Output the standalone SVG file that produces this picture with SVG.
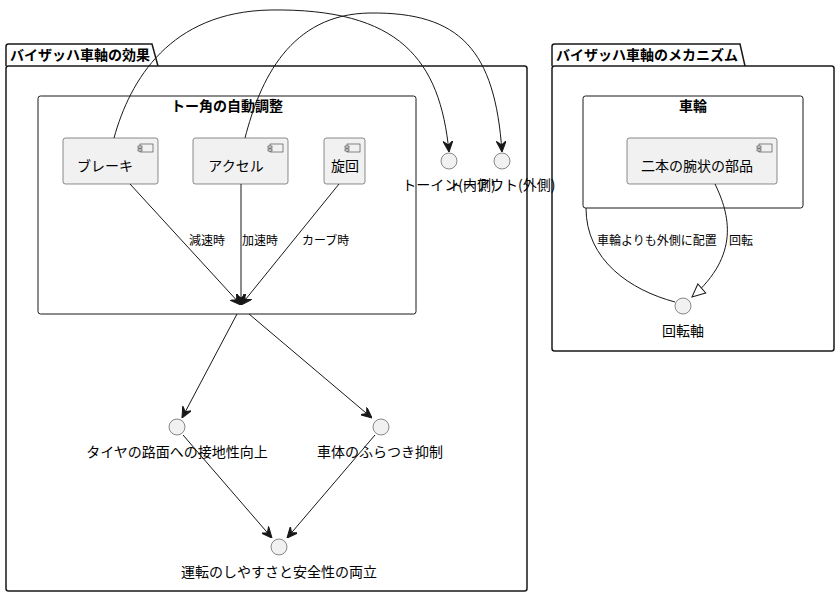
<svg xmlns="http://www.w3.org/2000/svg" width="840" height="597" viewBox="0 0 840 597">
<style>
text{font-family:"Noto Sans CJK JP","Noto Sans",sans-serif;fill:#000}
.pkg{fill:none;stroke:#181818;stroke-width:1.5}
.box{fill:none;stroke:#181818;stroke-width:1}
.comp{fill:#F1F1F1;stroke:#181818;stroke-width:0.5}
.icon{fill:#F1F1F1;stroke:#181818;stroke-width:0.5}
.iface{fill:#F1F1F1;stroke:#181818;stroke-width:0.5}
.ptitle{font-size:14px;font-weight:bold}
.btitle{font-size:14px;font-weight:bold}
.ctext{font-size:14px}
.ltext{font-size:14px}
.elabel{font-size:12px}
.edge{fill:none;stroke:#181818;stroke-width:1}
</style>
<defs>
<marker id="arr" markerWidth="11" markerHeight="10" refX="11" refY="5" orient="auto" markerUnits="userSpaceOnUse">
<path d="M0,0 L11,5 L0,10 L4,5 Z" fill="#181818" stroke="#181818" stroke-width="1"/>
</marker>
<marker id="tri" markerWidth="16" markerHeight="14" refX="14" refY="7" orient="auto" markerUnits="userSpaceOnUse">
<path d="M1,1 L14,7 L1,13 Z" fill="#FFFFFF" stroke="#181818" stroke-width="1"/>
</marker>
<g id="cicon">
<rect x="-18" y="6" width="13" height="8" class="icon"/>
<rect x="-20" y="8" width="4" height="2" class="icon"/>
<rect x="-20" y="11" width="4" height="2" class="icon"/>
</g>
</defs>

<g id="pkg-effect">
<path class="pkg" d="M6,66 L6,46.5 Q6,44 8.5,44 L152,44 L158,66"/>
<rect class="pkg" x="6" y="66" width="521" height="525" rx="2.5"/>
<text class="ptitle" x="10" y="60">バイザッハ車軸の効果</text>
</g>
<g id="box-toe">
<rect class="box" x="38" y="96" width="378" height="218" rx="2.5"/>
<text class="btitle" x="227" y="111" text-anchor="middle">トー角の自動調整</text>
</g>
<g id="pkg-mech">
<path class="pkg" d="M552,66 L552,46.5 Q552,44 554.5,44 L740,44 L745,66"/>
<rect class="pkg" x="552" y="66" width="282" height="285" rx="2.5"/>
<text class="ptitle" x="556" y="60">バイザッハ車軸のメカニズム</text>
</g>
<g id="box-wheel">
<rect class="box" x="583" y="96" width="220" height="112" rx="2.5"/>
<text class="btitle" x="693" y="111" text-anchor="middle">車輪</text>
</g>

<g id="brake">
<rect class="comp" x="63" y="138" width="95" height="46" rx="2.5"/>
<use href="#cicon" x="158" y="138"/>
<text class="ctext" x="105" y="171" text-anchor="middle">ブレーキ</text>
</g>
<g id="accel">
<rect class="comp" x="193" y="138" width="95" height="46" rx="2.5"/>
<use href="#cicon" x="288" y="138"/>
<text class="ctext" x="236" y="171" text-anchor="middle">アクセル</text>
</g>
<g id="turn">
<rect class="comp" x="324" y="138" width="41" height="46" rx="2.5"/>
<use href="#cicon" x="365" y="138"/>
<text class="ctext" x="345" y="171" text-anchor="middle">旋回</text>
</g>
<g id="arms">
<rect class="comp" x="627" y="138" width="150" height="46" rx="2.5"/>
<use href="#cicon" x="777" y="138"/>
<text class="ctext" x="697" y="171" text-anchor="middle">二本の腕状の部品</text>
</g>

<g id="toein">
<circle class="iface" cx="449" cy="161" r="8"/>
<text class="ltext" x="449" y="190" text-anchor="middle">トーイン(内側)</text>
</g>
<g id="toeout">
<circle class="iface" cx="502" cy="161" r="8"/>
<text class="ltext" x="502" y="190" text-anchor="middle">トーアウト(外側)</text>
</g>
<g id="grip">
<circle class="iface" cx="177" cy="427" r="8"/>
<text class="ltext" x="177" y="457" text-anchor="middle">タイヤの路面への接地性向上</text>
</g>
<g id="stable">
<circle class="iface" cx="381" cy="427" r="8"/>
<text class="ltext" x="380" y="457" text-anchor="middle">車体のふらつき抑制</text>
</g>
<g id="both">
<circle class="iface" cx="279" cy="547" r="8"/>
<text class="ltext" x="279" y="577" text-anchor="middle">運転のしやすさと安全性の両立</text>
</g>
<g id="axis">
<circle class="iface" cx="683" cy="306" r="8"/>
<text class="ltext" x="683" y="336" text-anchor="middle">回転軸</text>
</g>

<g id="connectors">
<path class="edge" d="M114,138 C130,80 170,12 270,10 C400,8 440,60 449,152" marker-end="url(#arr)"/>
<path class="edge" d="M245,138 C260,80 290,14 370,13 C460,12 495,50 502,152" marker-end="url(#arr)"/>
<path class="edge" d="M130,184 L241,305" marker-end="url(#arr)"/>
<path class="edge" d="M241,184 L241,305" marker-end="url(#arr)"/>
<path class="edge" d="M339,184 L241,305" marker-end="url(#arr)"/>
<text class="elabel" x="189" y="245">減速時</text>
<text class="elabel" x="242" y="245">加速時</text>
<text class="elabel" x="302" y="245">カーブ時</text>
<path class="edge" d="M237,314 L182,418" marker-end="url(#arr)"/>
<path class="edge" d="M249,314 L372,418" marker-end="url(#arr)"/>
<path class="edge" d="M183,435 L272,538" marker-end="url(#arr)"/>
<path class="edge" d="M375,435 L287,538" marker-end="url(#arr)"/>
<path class="edge" d="M586,208 C586,260 630,290 675,302"/>
<text class="elabel" x="597" y="245">車輪よりも外側に配置</text>
<path class="edge" d="M715,184 C730,215 740,255 692,297" marker-end="url(#tri)"/>
<text class="elabel" x="729" y="245">回転</text>
</g>
</svg>
